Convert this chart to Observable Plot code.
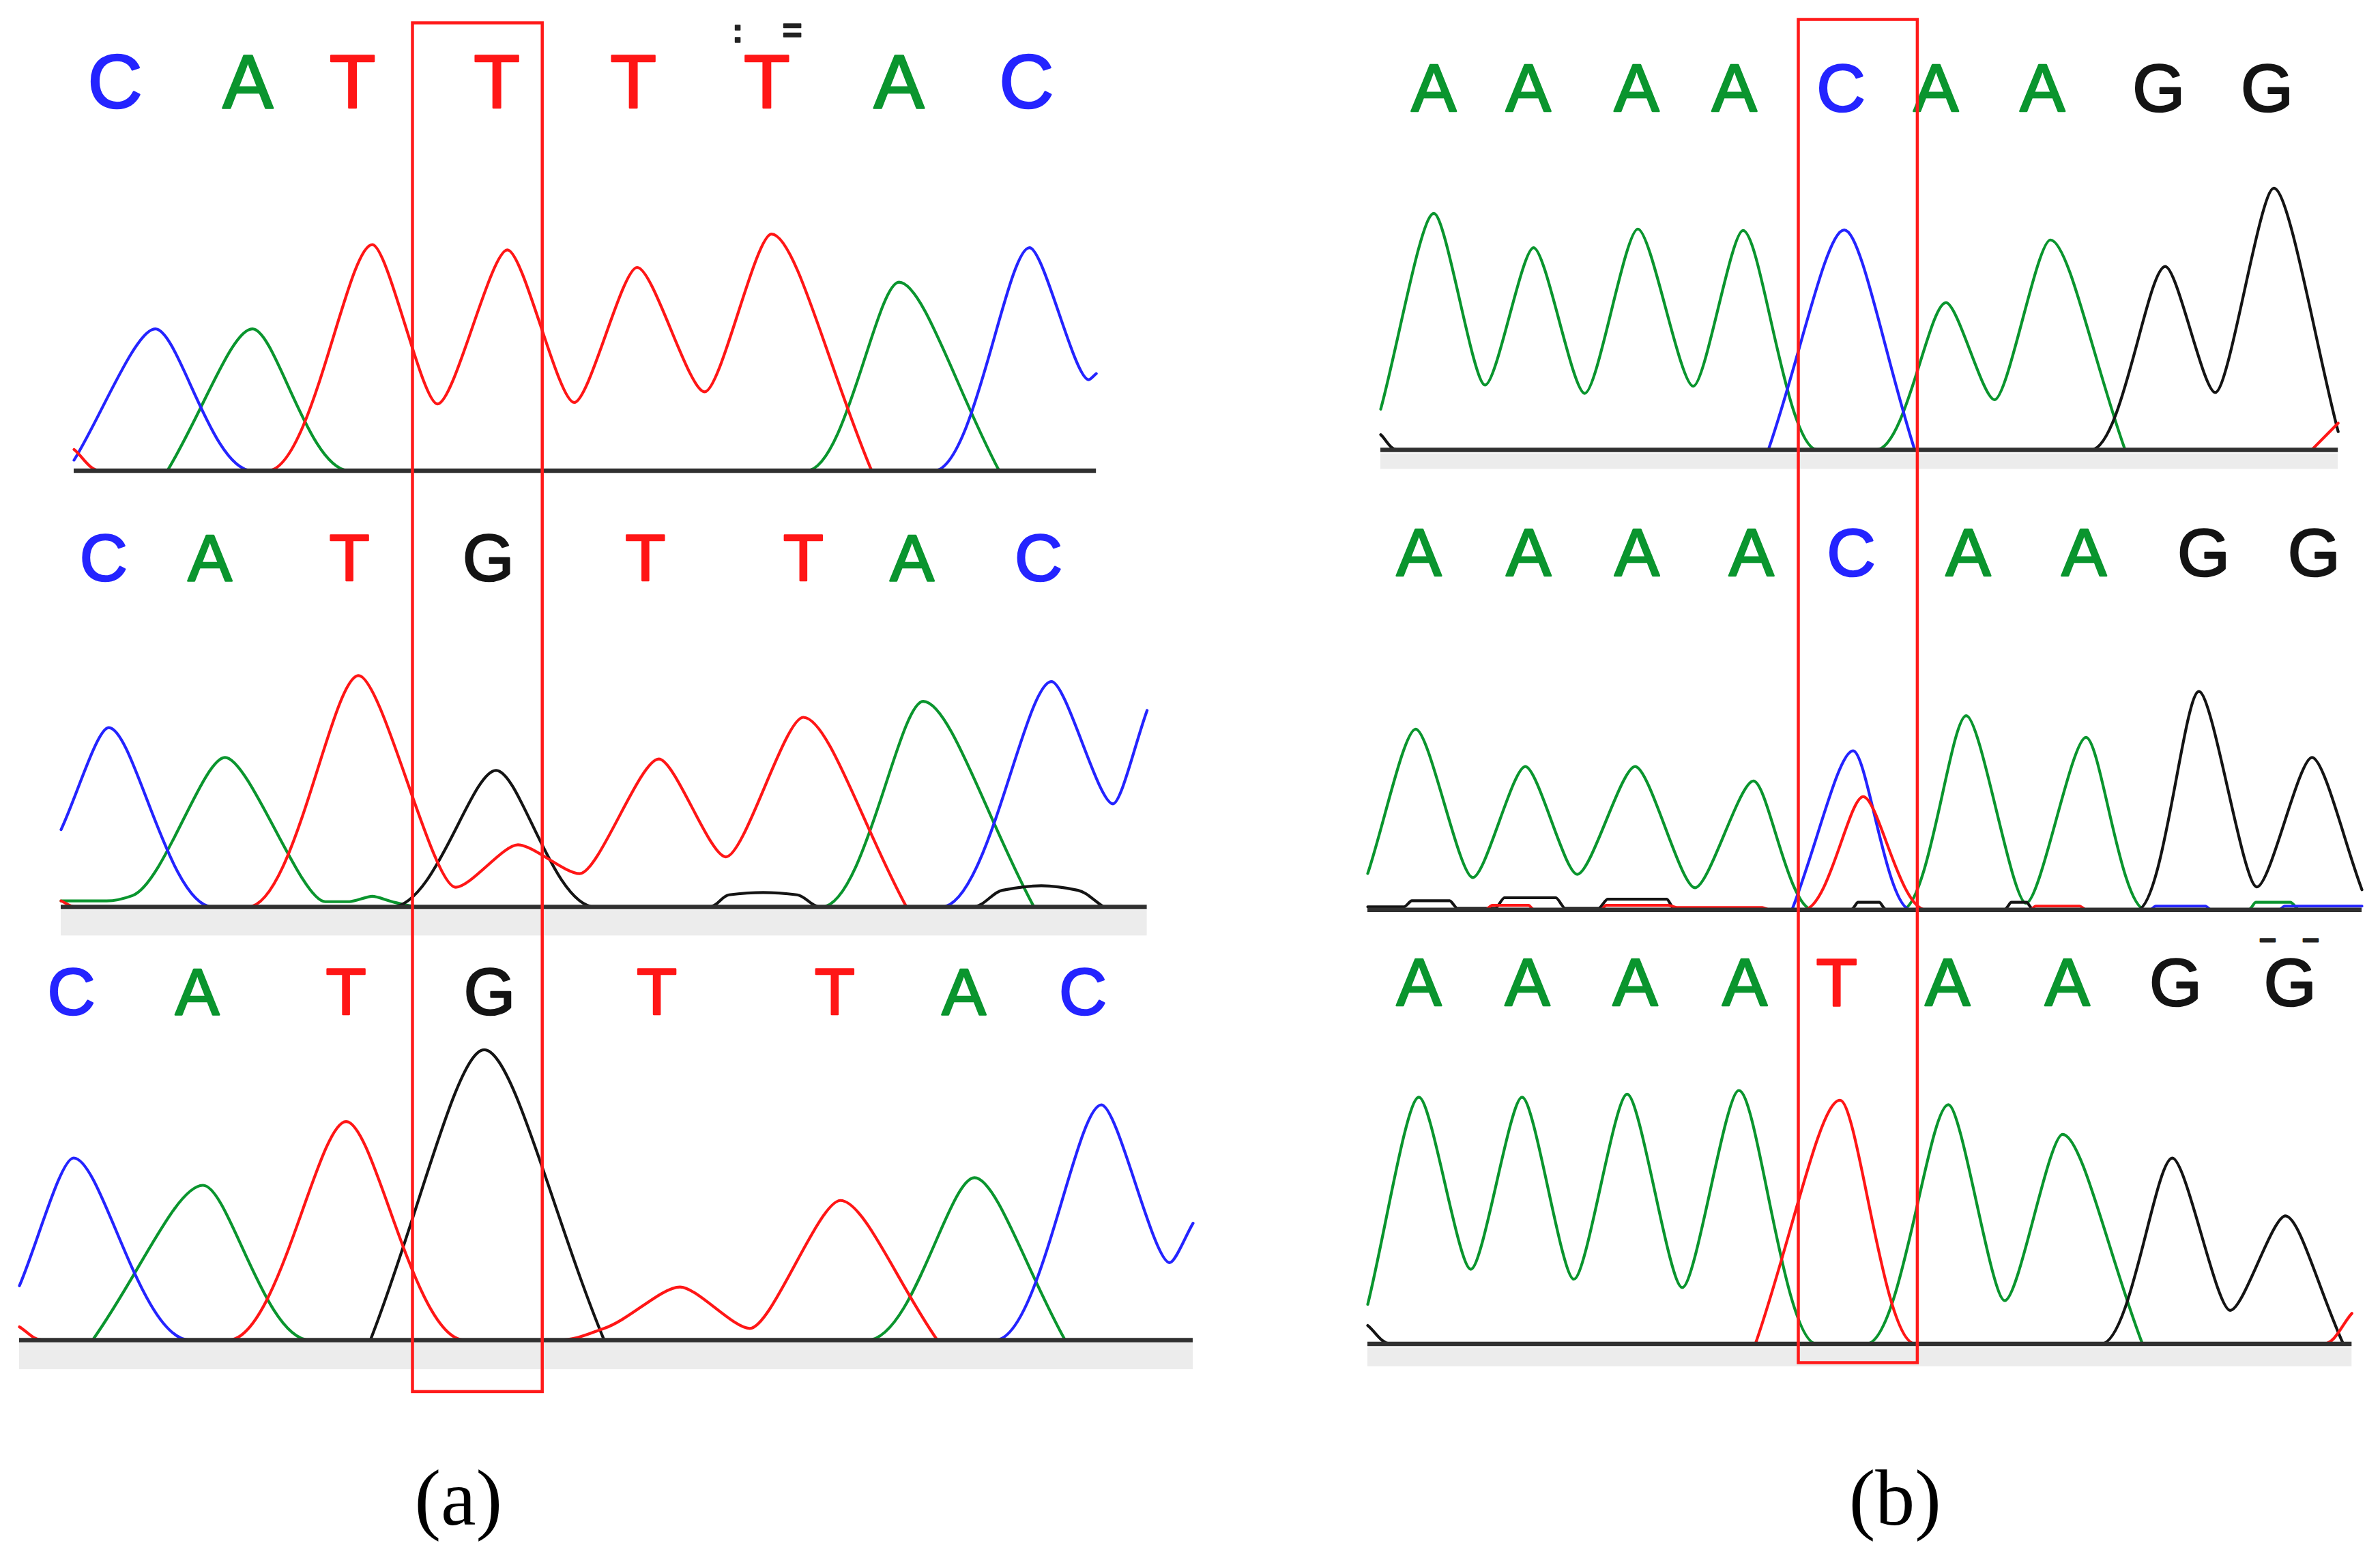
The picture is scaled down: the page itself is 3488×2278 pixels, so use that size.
<!DOCTYPE html>
<html>
<head>
<meta charset="utf-8">
<script src="https://cdn.jsdelivr.net/npm/d3@7"></script>
<script src="https://cdn.jsdelivr.net/npm/@observablehq/plot@0.6"></script>
<style>
  html, body { margin: 0; padding: 0; background: #fff; }
  #fig { position: relative; width: 3488px; height: 2278px; overflow: hidden; background: #fff; }
  .panel { position: absolute; line-height: 0; }
  .label { position: absolute; font-family: "Liberation Serif", "Times New Roman", serif; font-size: 116px;
           color: #000; transform: translate(-50%, -50%); white-space: nowrap; line-height: 1; }
</style>
</head>
<body>
<div id="fig"></div>
<script>
// ---------------- DATA (scan position, signal intensity) ----------------
const channels = ["A", "C", "G", "T"];
const channelColors = ["#0a952e", "#2424ff", "#141414", "#ff1616"];

// (a) top: CATTTTAC
const a1Bases = ["C", "A", "T", "T", "T", "T", "A", "C"];
const a1BaseScan = [27, 114.5, 183.5, 278.5, 368.5, 456.5, 543.5, 627.5];
const a1A = [[61.5, 0], [117.5, 93.5], [181.5, 0], [482.5, 0], [543.5, 124.3], [609.5, 0]];
const a1C = [[0, 7], [53.5, 93.5], [117.5, 0], [566.5, 0], [629.5, 147], [668.5, 60], [673.5, 64]];
const a1G = [];
const a1T = [[0, 14], [17.5, 0], [127.5, 0], [196.5, 149], [239.5, 44], [285.5, 145.5], [329.5, 45],
             [371, 134], [415.5, 52], [459.5, 156], [525.5, 0]];

// (a) middle: CATGTTAC (heterozygous T/G)
const a2Bases = ["C", "A", "T", "G", "T", "T", "A", "C"];
const a2BaseScan = [28, 98, 190, 281.5, 385, 489, 560.6, 644];
const a2A = [[0, 4], [30, 4], [47, 7.5], [108, 98.5], [174, 3.5], [190, 3.5], [205, 7], [220, 3], [238, 0],
             [501, 0], [568, 135.5], [641, 0]];
const a2C = [[0, 51], [31.4, 118.2], [100, 0], [580, 0], [652.5, 148.5], [693, 68], [715.5, 129.5]];
const a2G = [[200, 0], [217.7, 0], [286.6, 90], [352, 0], [426.6, 0], [440, 8], [462.6, 9.5], [485, 8], [501, 0],
             [600, 0], [620, 11], [646, 14], [670, 11], [687, 0]];
const a2T = [[0, 4], [10, 0], [123, 0], [196, 152.5], [260, 13], [301, 41], [341.7, 22], [393.8, 97.5],
             [438, 33], [489, 125], [557, 0]];

// (a) bottom: CATGTTAC (homozygous G)
const a3Bases = ["C", "A", "T", "G", "T", "T", "A", "C"];
const a3BaseScan = [34.2, 117.2, 215.2, 309.7, 419.9, 537.2, 622.2, 700.6];
const a3A = [[48.2, 0], [120.9, 102], [191.2, 0], [558.7, 0], [629.2, 107], [688.9, 0]];
const a3C = [[0, 35.8], [35.7, 120], [112.2, 0], [642.9, 0], [712.8, 155], [757.8, 51], [773.2, 77]];
const a3G = [[231.2, 0], [306.2, 191.3], [385.2, 0]];
const a3T = [[0, 8.7], [15.2, 0], [137.7, 0], [215.2, 144], [293.2, 0], [354.2, 0], [385.2, 7.7],
             [435.2, 35], [481.2, 7.7], [540.9, 92], [604.7, 0]];

// (b) top: AAAACAAGG
const b1Bases = ["A", "A", "A", "A", "C", "A", "A", "G", "G"];
const b1BaseScan = [35, 97.2, 168.6, 233, 303.2, 365.8, 435.9, 512.6, 584];
const b1A = [[0, 26.8], [35, 155.8], [68.8, 42.7], [100.7, 133.2], [134.4, 37.2], [169.4, 145.5], [205.9, 41.9],
             [238.7, 144.5], [287.8, 0], [326.4, 0], [372.4, 97], [404.4, 33], [441.2, 138.3], [490.4, 0]];
const b1C = [[255.4, 0], [305.4, 144.9], [351.8, 0]];
const b1G = [[0, 10], [10.9, 0], [467.9, 0], [516.9, 120.8], [549.8, 37.8], [588.4, 172.4], [630.8, 12]];
const b1T = [[613.4, 0], [630.8, 17.6]];

// (b) middle: AAAACAAGG (heterozygous C/T)
const b2Bases = ["A", "A", "A", "A", "C", "A", "A", "G", "G"];
const b2BaseScan = [33.7, 106, 177.4, 252.8, 318.5, 395.6, 471.9, 550.7, 623.4];
const b2A = [[0, 24], [31.6, 119.1], [69.2, 21.3], [103.8, 94.5], [138, 23.4], [176.2, 94.5], [215.6, 14.6],
             [254.1, 84.9], [293.5, 0], [351.8, 0], [394.3, 128], [433.7, 4.4], [473.2, 113.7], [512.6, 0],
             [580, 0], [585, 5], [608, 5], [613, 0]];
const b2C = [[279.5, 0], [319.8, 104.8], [357.9, 0], [515, 0], [519, 2.5], [552, 2.5], [556, 0],
             [600, 0], [604, 2.5], [655, 2.5]];
const b2G = [[0, 2], [24, 2], [29, 6], [54, 6], [59, 1], [84, 1], [90, 8], [124, 8], [130, 1], [152, 1],
             [158, 7], [197, 7], [203, 0], [318, 0], [323, 5], [337, 5], [342, 0], [419, 0], [424, 5],
             [434, 5], [439, 0], [506.9, 0], [547.6, 143.9], [585.8, 15.1], [622.1, 100.4], [655, 13.3]];
const b2T = [[78, 0], [82, 3], [106, 3], [110, 0], [153, 0], [157, 3], [198, 3], [204, 1.5], [260, 1.5],
             [265, 0], [287, 0], [326.4, 74.6], [368, 0], [436, 0], [440, 2.5], [469, 2.5], [473, 0]];

// (b) bottom: AAAATAAGG (homozygous T)
const b3Bases = ["A", "A", "A", "A", "T", "A", "A", "G", "G"];
const b3BaseScan = [33.7, 105.2, 176.2, 248.4, 308.9, 382, 460.9, 532.3, 607.7];
const b3A = [[0, 26.1], [33.7, 162.6], [67.9, 49.2], [101.7, 162.6], [135.8, 42.6], [170.9, 164.6],
             [207.2, 37.1], [244.5, 167], [295.7, 0], [328.6, 0], [382.5, 157.6], [419.7, 28.5],
             [457.8, 138.1], [510.4, 0]];
const b3C = [];
const b3G = [[0, 12.1], [15.3, 0], [483.2, 0], [530.1, 122.4], [568.2, 22.1], [604.6, 84.3], [642.7, 0]];
const b3T = [[255.4, 0], [311.1, 160.6], [360.6, 0], [629.6, 0], [648.4, 20.1]];

// small quality marks printed above a base call
const a1FlagIndex = 5, a1FlagGlyphs = [":", "="];
const b3FlagIndex = 8, b3FlagGlyphs = ["\u2212", "\u2212"];

const panelLabels = ["(a)", "(b)"];

// ---------------- LAYOUT (reference units -> pixels) ----------------
const S = 3488 / 1568;
const FONT = "'Liberation Sans', Arial, sans-serif";

const panels = [
  {bases: a1Bases, scans: a1BaseScan, traces: [a1A, a1C, a1G, a1T], L: 48.5, R: 722, T: 0, B: 330,
   base: 310, letterY: 55, fontSize: 111, shadow: null, flag: {i: a1FlagIndex, g: a1FlagGlyphs, y: 20.5, dx: [-43, 37], size: 50}},
  {bases: a2Bases, scans: a2BaseScan, traces: [a2A, a2C, a2G, a2T], L: 40, R: 755.5, T: 330, B: 625,
   base: 597.5, letterY: 368.6, fontSize: 97, shadow: [599.8, 616.5]},
  {bases: a3Bases, scans: a3BaseScan, traces: [a3A, a3C, a3G, a3T], L: 12.8, R: 786, T: 625, B: 940,
   base: 883, letterY: 654.6, fontSize: 97, shadow: [885.3, 902.4]},
  {bases: b1Bases, scans: b1BaseScan, traces: [b1A, b1C, b1G, b1T], L: 909.6, R: 1540.4, T: 0, B: 320,
   base: 296.2, letterY: 59, fontSize: 99, shadow: [298.8, 309]},
  {bases: b2Bases, scans: b2BaseScan, traces: [b2A, b2C, b2G, b2T], L: 900.8, R: 1555.8, T: 320, B: 615,
   base: 599.3, letterY: 365, fontSize: 99, shadow: null},
  {bases: b3Bases, scans: b3BaseScan, traces: [b3A, b3C, b3G, b3T], L: 900.8, R: 1549.2, T: 615, B: 940,
   base: 885.4, letterY: 648, fontSize: 99, shadow: [888, 900.4], flag: {i: b3FlagIndex, g: b3FlagGlyphs, y: 619.5, dx: [-33, 30], size: 44}}
];

const boxes = [
  {x1: 271.5, x2: 357, y1: 15, y2: 917},
  {x1: 1184.7, x2: 1263.1, y1: 12.8, y2: 898}
];
const labelPos = [[302, 987], [1248.5, 987]];

// Chromatogram-style curve: monotone tangents, tighter turns at peaks/troughs,
// softer turns where a trace leaves the baseline.
function chromCurve(context) {
  let pts;
  return {
    areaStart() {}, areaEnd() {},
    lineStart() { pts = []; },
    point(x, y) { pts.push([+x, +y]); },
    lineEnd() {
      const n = pts.length;
      if (!n) return;
      context.moveTo(pts[0][0], pts[0][1]);
      if (n === 1) return;
      const d = [];
      for (let i = 0; i < n - 1; i++) {
        const dx = pts[i + 1][0] - pts[i][0];
        d.push(dx ? (pts[i + 1][1] - pts[i][1]) / dx : 0);
      }
      const maxY = Math.max(...pts.map(p => p[1]));
      const m = new Array(n), k = new Array(n);
      for (let i = 0; i < n; i++) {
        if (i === 0) m[i] = d[0];
        else if (i === n - 1) m[i] = d[n - 2];
        else if (d[i - 1] * d[i] <= 0) m[i] = 0;
        else m[i] = 2 / (1 / d[i - 1] + 1 / d[i]);
        const foot = Math.abs(pts[i][1] - maxY) < 0.5;
        const extremum = i > 0 && i < n - 1 && m[i] === 0;
        k[i] = foot ? 0.42 : extremum ? 0.24 : 1 / 3;
      }
      for (let i = 0; i < n - 1; i++) {
        const [x0, y0] = pts[i], [x1, y1] = pts[i + 1];
        const dx = x1 - x0;
        const c1x = x0 + k[i] * dx, c1y = y0 + k[i] * dx * m[i];
        const c2x = x1 - k[i + 1] * dx, c2y = y1 - k[i + 1] * dx * m[i + 1];
        context.bezierCurveTo(c1x, c1y, c2x, c2y, x1, y1);
      }
    }
  };
}

const fig = document.getElementById("fig");

function place(el, left, top) {
  const d = document.createElement("div");
  d.className = "panel";
  d.style.left = left + "px";
  d.style.top = top + "px";
  d.appendChild(el);
  fig.appendChild(d);
}

for (const p of panels) {
  const xmax = p.R - p.L;
  const W = xmax * S, H = (p.B - p.T) * S;
  const rows = [];
  p.traces.forEach((pts, k) => { for (const [scan, v] of pts) rows.push({ch: channels[k], scan, v}); });
  const letters = p.bases.map((b, i) => ({b, scan: p.scans[i]}));
  const marks = [];
  if (p.shadow) {
    marks.push(Plot.rect([0], {x1: 0, x2: xmax, y1: p.base - p.shadow[0], y2: p.base - p.shadow[1], fill: "#ececec"}));
  }
  marks.push(Plot.line(rows, {x: "scan", y: "v", z: "ch", stroke: "ch", strokeWidth: 4.2,
                              curve: chromCurve, strokeLinejoin: "round"}));
  marks.push(Plot.ruleY([0], {stroke: "#303030", strokeWidth: 6.5}));
  marks.push(Plot.text(letters, {x: "scan", frameAnchor: "top", dy: (p.letterY - p.T) * S, text: "b",
                                 fill: "b", stroke: "b", strokeWidth: 2.6, fontSize: p.fontSize,
                                 fontFamily: FONT, lineAnchor: "middle"}));
  if (p.flag) {
    p.flag.g.forEach((g, j) => {
      marks.push(Plot.text([p.scans[p.flag.i]], {x: d => d, frameAnchor: "top", dy: (p.flag.y - p.T) * S,
        dx: p.flag.dx[j], text: () => g, fill: "#222", stroke: "#222", strokeWidth: 1.5,
        fontSize: p.flag.size, fontWeight: "bold", fontFamily: FONT, lineAnchor: "middle"}));
    });
  }
  const chart = Plot.plot({
    width: W, height: H, margin: 0,
    x: {domain: [0, xmax], axis: null},
    y: {domain: [p.base - p.B, p.base - p.T], axis: null},
    color: {domain: channels, range: channelColors},
    style: {background: "transparent", overflow: "visible"},
    marks
  });
  place(chart, p.L * S, p.T * S);
}

for (const b of boxes) {
  const pad = 10;
  const W = (b.x2 - b.x1) * S + 2 * pad, H = (b.y2 - b.y1) * S + 2 * pad;
  const chart = Plot.plot({
    width: W, height: H, margin: pad,
    style: {background: "transparent", overflow: "visible"},
    marks: [Plot.frame({stroke: "#ff1a1a", strokeWidth: 4.5})]
  });
  place(chart, b.x1 * S - pad, b.y1 * S - pad);
}

panelLabels.forEach((t, i) => {
  const d = document.createElement("div");
  d.className = "label";
  d.textContent = t;
  d.style.left = (labelPos[i][0] * S) + "px";
  d.style.top = (labelPos[i][1] * S) + "px";
  fig.appendChild(d);
});
</script>
</body>
</html>
